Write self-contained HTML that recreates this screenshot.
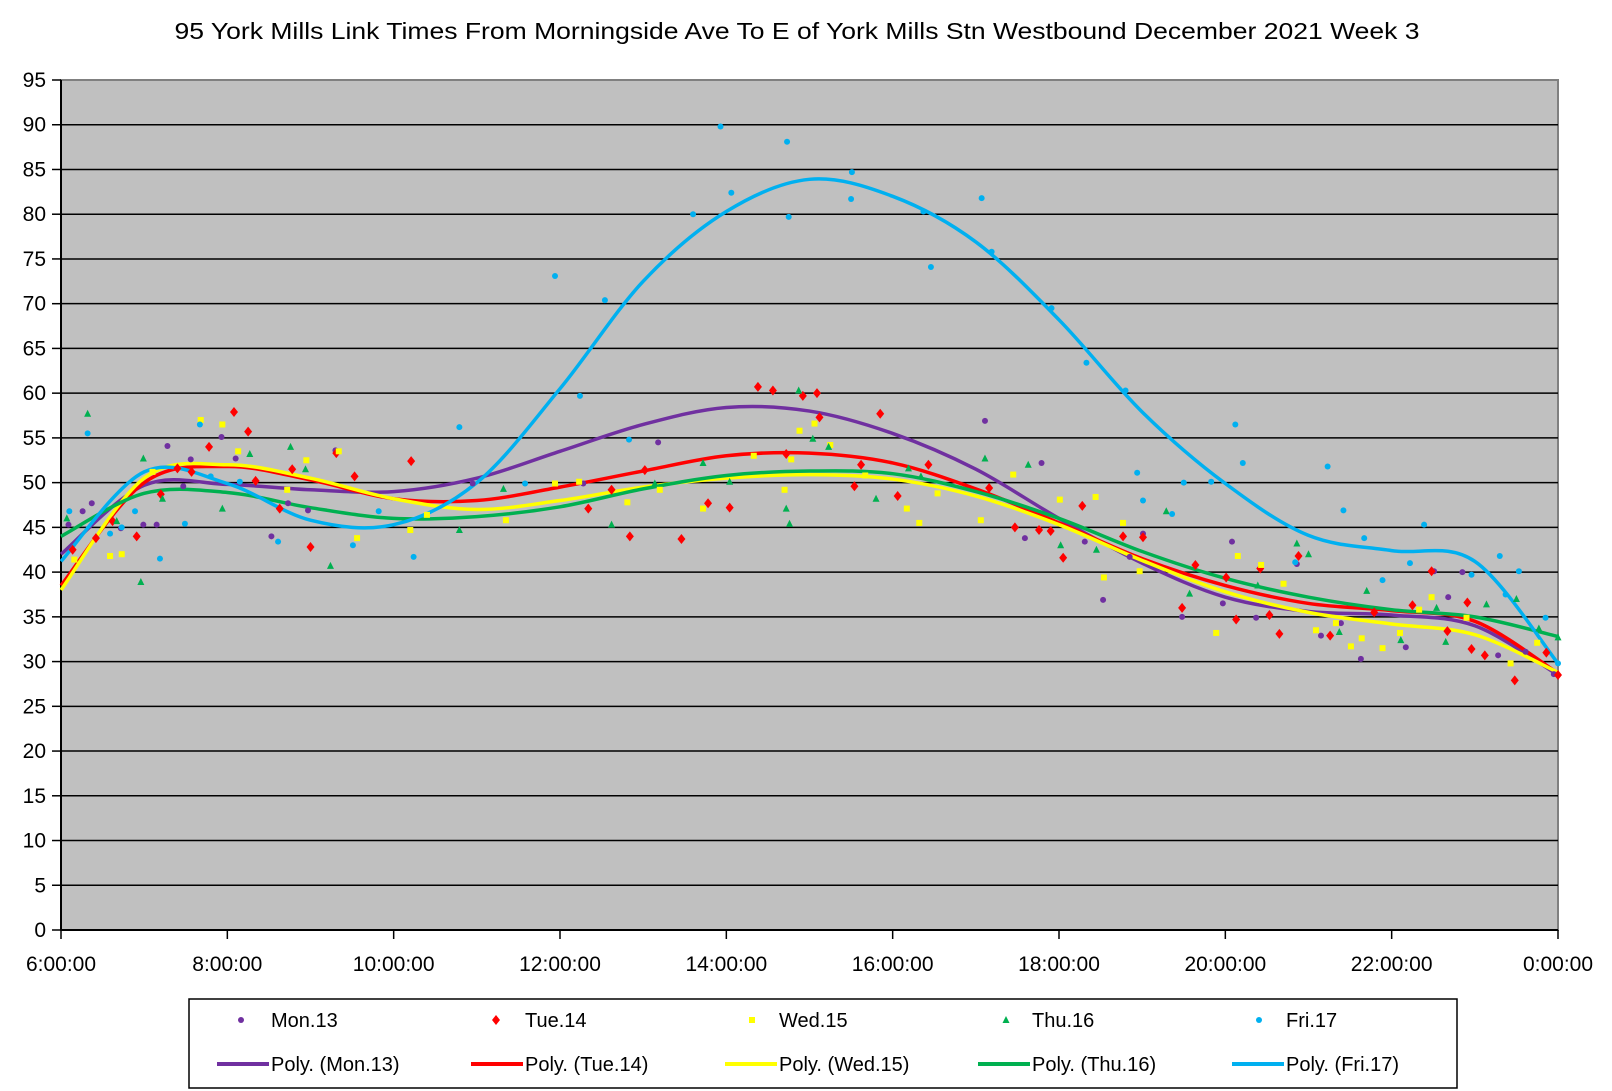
<!DOCTYPE html>
<html><head><meta charset="utf-8">
<style>
html,body{margin:0;padding:0;background:#fff;}
svg{display:block;font-family:"Liberation Sans",Arial,sans-serif;}
</style></head>
<body>
<svg id="chart" width="1612" height="1091" viewBox="0 0 1612 1091" xmlns="http://www.w3.org/2000/svg">
<rect width="1612" height="1091" fill="#fff"/>
<text x="797" y="39" text-anchor="middle" font-size="23" textLength="1245" lengthAdjust="spacingAndGlyphs" fill="#000">95 York Mills Link Times From Morningside Ave To E of York Mills Stn Westbound December 2021  Week 3</text>
<rect x="61" y="80" width="1497" height="850" fill="#c0c0c0" stroke="#808080" stroke-width="2"/>
<g id="grid"></g>
<g id="axes"></g>
<g id="curves"></g>
<g id="points"></g>
<g id="legend"></g>
</svg>
<script>
const yTicks=[0,5,10,15,20,25,30,35,40,45,50,55,60,65,70,75,80,85,90,95];
const xTickHours=[6,8,10,12,14,16,18,20,22,24];
const xTickLabels=["6:00:00","8:00:00","10:00:00","12:00:00","14:00:00","16:00:00","18:00:00","20:00:00","22:00:00","0:00:00"];
const seriesNames=["Mon.13","Tue.14","Wed.15","Thu.16","Fri.17"];
const seriesColors=["#7030a0","#ff0000","#ffff00","#00b050","#00b0f0"];
const curveHours=[6,7,8,9,10,11,12,13,14,15,16,17,18,19,20,21,22,23,24];
const curveMon=[42,49.7,49.8,49.2,49,50.5,53.5,56.5,58.4,58,55.5,51.5,46,41,37.2,35.6,35.2,34,28.5];
const curveTue=[38.5,50,51.8,50.3,48.2,48,49.5,51.3,53,53.3,52.2,49.3,45.5,41.5,38.5,36.5,35.7,34.5,28.7];
const curveWed=[38,50.5,52,50.5,48.2,47,48,49.5,50.5,50.9,50.4,48.5,45.3,41.3,37.8,35.5,34.2,33,28.8];
const curveThu=[44,48.8,48.9,47.2,46,46.2,47.3,49.3,50.8,51.3,51,49,46,42.3,39.3,37.2,35.8,35,32.8];
const curveFri=[41.2,51.2,49.9,45.8,45.3,50,60.5,72.5,80.3,83.9,82,76.9,68.2,57.9,49.9,44.1,42.4,41.2,29.8];
const monH=[6.09,6.26,6.37,6.72,6.99,7.15,7.28,7.47,7.56,7.93,8.10,8.53,8.73,8.97,9.30,10.95,12.28,13.18,17.79,17.59,17.11,18.53,18.31,18.85,19.01,19.48,19.97,20.08,20.37,20.86,21.15,21.39,21.63,22.17,22.51,22.68,22.85,23.28,23.61,23.95];
const monV=[45.3,46.8,47.7,44.9,45.3,45.3,54.1,49.6,52.6,55.1,52.7,44.0,47.7,46.9,53.6,49.9,49.9,54.5,52.2,43.8,56.9,36.9,43.4,41.7,44.3,35.0,36.5,43.4,34.9,40.9,32.9,34.3,30.3,31.6,40.1,37.2,40.0,30.7,31.1,28.6];
const tueH=[6.14,6.42,6.62,6.91,7.20,7.40,7.57,7.78,8.08,8.25,8.34,8.63,8.78,9.00,9.31,9.53,10.21,12.34,12.62,12.84,13.02,13.46,13.78,14.04,14.38,14.56,14.92,15.09,15.12,14.72,15.54,15.62,15.85,16.06,16.43,17.16,17.47,17.76,17.90,18.05,18.28,18.77,19.01,19.48,19.64,20.01,20.13,20.42,20.53,20.65,20.88,21.26,21.79,22.25,22.48,22.67,22.91,22.96,23.12,23.48,23.86,24.0];
const tueV=[42.5,43.8,45.7,44.0,48.7,51.6,51.2,54.0,57.9,55.7,50.2,47.1,51.5,42.8,53.3,50.7,52.4,47.1,49.2,44.0,51.4,43.7,47.7,47.2,60.7,60.3,59.7,60.0,57.3,53.2,49.6,52.0,57.7,48.5,52.0,49.4,45.0,44.7,44.6,41.6,47.4,44.0,43.9,36.0,40.8,39.4,34.7,40.4,35.2,33.1,41.8,32.9,35.5,36.3,40.1,33.4,36.6,31.4,30.7,27.9,31.0,28.5];
const wedH=[6.16,6.59,6.73,7.10,7.68,7.94,8.13,8.72,8.95,9.34,9.56,10.20,10.40,11.35,11.94,12.23,12.81,13.20,13.72,14.33,14.70,14.78,14.88,15.06,15.25,15.67,16.17,16.32,16.54,17.06,17.45,18.01,18.44,18.54,18.77,18.97,19.89,20.15,20.43,20.70,21.09,21.33,21.51,21.64,21.89,22.10,22.33,22.48,22.90,23.43,23.75];
const wedV=[41.4,41.8,42.0,51.2,57.0,56.5,53.5,49.2,52.5,53.5,43.8,44.7,46.4,45.8,49.9,50.1,47.8,49.2,47.1,53.0,49.2,52.6,55.8,56.6,54.2,50.8,47.1,45.5,48.8,45.8,50.9,48.1,48.4,39.4,45.5,40.1,33.2,41.8,40.8,38.7,33.5,34.3,31.7,32.6,31.5,33.2,35.8,37.2,34.9,29.8,32.1];
const thuH=[6.07,6.32,6.67,6.96,6.99,7.22,7.94,8.27,8.76,8.94,9.24,10.79,11.32,12.62,13.14,13.72,14.04,14.87,14.72,14.76,15.04,15.23,15.80,16.19,16.34,17.11,17.63,18.02,18.45,19.29,19.57,20.39,20.86,21.0,21.37,21.70,22.11,22.54,22.65,23.14,23.50,23.77,24.0];
const thuV=[46.0,57.7,45.7,38.9,52.7,48.2,47.1,53.2,54.0,51.5,40.7,44.7,49.3,45.3,49.9,52.2,50.1,60.3,47.1,45.4,54.9,54.0,48.2,51.6,50.7,52.7,52.0,43.0,42.5,46.8,37.6,38.5,43.2,42.0,33.3,37.9,32.4,36.0,32.2,36.4,37.0,33.7,32.7];
const friH=[6.10,6.32,6.59,6.73,6.89,7.19,7.49,7.67,7.80,8.15,8.61,9.51,9.82,10.24,10.79,11.58,11.94,12.24,12.54,12.83,13.60,13.93,14.06,14.73,14.75,15.51,15.50,16.37,16.46,17.07,17.19,17.91,18.33,18.80,18.94,19.01,19.36,19.50,19.83,20.12,20.21,20.84,21.23,21.42,21.67,21.89,22.22,22.39,22.96,23.30,23.37,23.53,23.85,24.0];
const friV=[46.8,55.5,44.3,45.0,46.8,41.5,45.4,56.5,50.7,50.1,43.4,43.0,46.8,41.7,56.2,49.9,73.1,59.7,70.4,54.8,80.0,89.8,82.4,88.1,79.7,84.7,81.7,80.3,74.1,81.8,75.8,69.5,63.4,60.3,51.1,48.0,46.5,50.0,50.1,56.5,52.2,41.1,51.8,46.9,43.8,39.1,41.0,45.3,39.7,41.8,37.5,40.1,34.9,29.8];

const NS="http://www.w3.org/2000/svg";
const X0=61,X1=1558,Y0=930,Y1=80;
function xs(h){return X0+(h-6)/18*(X1-X0);}
function ys(v){return Y0-v/95*(Y0-Y1);}
function mk(tag,attrs,parent){const e=document.createElementNS(NS,tag);for(const k in attrs)e.setAttribute(k,attrs[k]);parent.appendChild(e);return e;}
const grid=document.getElementById('grid'),axes=document.getElementById('axes');
yTicks.forEach(v=>{
  if(v>0&&v<95){const l=mk('line',{x1:X0,x2:X1,y1:ys(v),y2:ys(v),stroke:'#000','stroke-width':1.5},grid);
  
  }
  mk('line',{x1:52,x2:X0,y1:ys(v),y2:ys(v),stroke:'#000','stroke-width':1.5},axes);
  const t=mk('text',{x:46,y:ys(v)+7,'text-anchor':'end','font-size':21},axes);t.textContent=v;
  
  
});
mk('line',{x1:X0,x2:X0,y1:Y1,y2:Y0,stroke:'#000','stroke-width':2},axes);
mk('line',{x1:X0,x2:X1,y1:Y0,y2:Y0,stroke:'#000','stroke-width':2},axes);
xTickHours.forEach((h,i)=>{
  mk('line',{x1:xs(h),x2:xs(h),y1:Y0,y2:Y0+9,stroke:'#000','stroke-width':1.5},axes);
  const t=mk('text',{x:xs(h),y:971,'text-anchor':'middle','font-size':21},axes);t.textContent=xTickLabels[i];
  
  
});
function smoothPath(hs,vs){
  const p=hs.map((h,i)=>[xs(h),ys(vs[i])]);
  let d='M'+p[0][0]+','+p[0][1];
  for(let i=0;i<p.length-1;i++){
    const a=p[Math.max(0,i-1)],b=p[i],c=p[i+1],e=p[Math.min(p.length-1,i+2)];
    const c1=[b[0]+(c[0]-a[0])/6,b[1]+(c[1]-a[1])/6],c2=[c[0]-(e[0]-b[0])/6,c[1]-(e[1]-b[1])/6];
    d+=' C'+c1[0]+','+c1[1]+' '+c2[0]+','+c2[1]+' '+c[0]+','+c[1];
  }
  return d;
}
const curves=[curveMon,curveTue,curveWed,curveThu,curveFri];
const pts=[[monH,monV],[tueH,tueV],[wedH,wedV],[thuH,thuV],[friH,friV]];
const cg=document.getElementById('curves'),pg=document.getElementById('points');
function marker(i,x,y,parent){
  let e;
  if(i===0||i===4)e=mk('circle',{cx:x,cy:y,r:3,fill:seriesColors[i]},parent);
  else if(i===1)e=mk('polygon',{points:`${x},${y-5} ${x+4},${y} ${x},${y+5} ${x-4},${y}`,fill:seriesColors[i]},parent);
  else if(i===2)e=mk('rect',{x:x-3,y:y-3,width:6,height:6,fill:seriesColors[i]},parent);
  else e=mk('polygon',{points:`${x},${y-4} ${x+3.5},${y+3} ${x-3.5},${y+3}`,fill:seriesColors[i]},parent);
  return e;
}
pts.forEach((s,i)=>{
  s[0].forEach((h,j)=>{
    const m=marker(i,xs(h),ys(s[1][j]),pg);
    
    
  });
});
curves.forEach((c,i)=>{
  const p=mk('path',{d:smoothPath(curveHours,c),fill:'none',stroke:seriesColors[i],'stroke-width':3.5},cg);
  
  
});
const lg=document.getElementById('legend');
mk('rect',{x:189,y:999,width:1268,height:89,fill:'#fff',stroke:'#000','stroke-width':1.5},lg);
const mx=[241,496,752,1006,1259],tx=[271,525,779,1032,1286];
seriesNames.forEach((n,i)=>{
  const m=marker(i,mx[i],1020,lg);
  
  
  const t=mk('text',{x:tx[i],y:1027,'font-size':20},lg);t.textContent=n;
  
  
  const l=mk('line',{x1:tx[i]-54,x2:tx[i]-2,y1:1064,y2:1064,stroke:seriesColors[i],'stroke-width':4},lg);
  
  
  const t2=mk('text',{x:tx[i],y:1071,'font-size':20},lg);t2.textContent='Poly. ('+n+')';
  
  
});
</script>
</body></html>
